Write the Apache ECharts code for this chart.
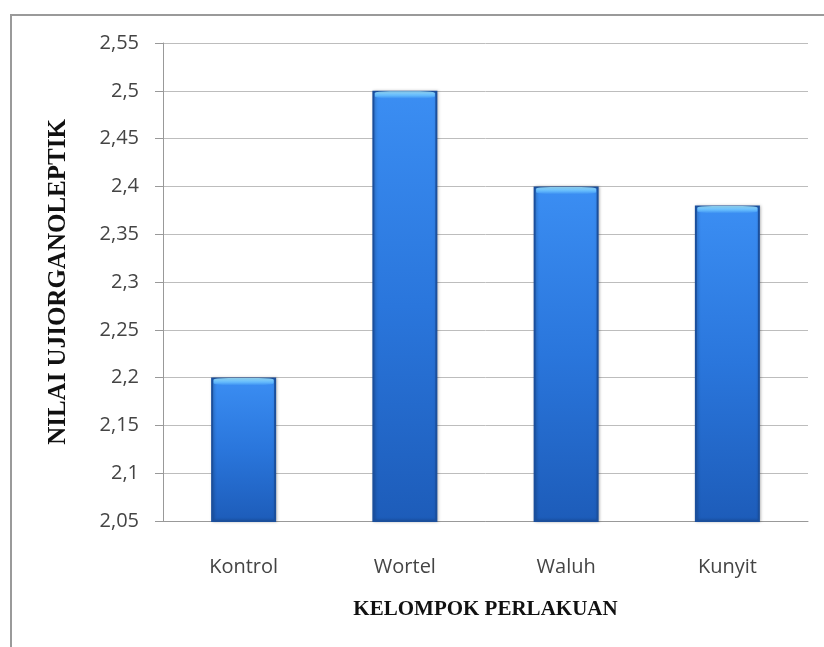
<!DOCTYPE html>
<html>
<head>
<meta charset="utf-8">
<script src="https://cdn.jsdelivr.net/npm/echarts@6/dist/echarts.min.js"></script>
<style>
  html, body { margin: 0; padding: 0; background: #fff; }
  #chart { width: 824px; height: 647px; }
</style>
</head>
<body>
<div id="chart"></div>
<script>
// data
var categories = ['Kontrol', 'Wortel', 'Waluh', 'Kunyit'];
var nilai = [2.2, 2.5, 2.4, 2.38];

var chart = echarts.init(document.getElementById('chart'));

// 2.5 -> "2,5", 2.05 -> "2,05"
function fmt(v) {
    return String(parseFloat(v.toFixed(2))).replace('.', ',');
}

var barColor = new echarts.graphic.LinearGradient(0, 0, 0, 1, [
    { offset: 0, color: '#3b8ef3' },
    { offset: 0.5, color: '#2a76dc' },
    { offset: 1, color: '#1d5cb9' }
]);
var capColor = new echarts.graphic.LinearGradient(0, 0, 0, 1, [
    { offset: 0, color: '#a8ecff' },
    { offset: 0.6, color: '#6cc4ff' },
    { offset: 1, color: '#3f93f2' }
]);

var option = {
    animation: false,
    graphic: [
        {
            type: 'rect',
            shape: { x: 11, y: 15, width: 830, height: 650 },
            style: { fill: 'none', stroke: '#9a9a9a', lineWidth: 2 },
            silent: true
        }
    ],
    grid: { left: 163, top: 43, right: 16, bottom: 126 },
    xAxis: {
        type: 'category',
        data: categories,
        name: 'KELOMPOK PERLAKUAN',
        nameLocation: 'middle',
        nameGap: 78,
        nameTextStyle: {
            fontFamily: 'Liberation Serif',
            fontWeight: 'bold',
            fontSize: 21,
            color: '#111'
        },
        axisLine: { show: true, lineStyle: { color: '#999', width: 1 } },
        axisTick: { show: false },
        axisLabel: {
            margin: 36,
            fontFamily: 'Open Sans',
            fontSize: 20,
            color: '#444'
        }
    },
    yAxis: {
        type: 'value',
        min: 2.05,
        max: 2.55,
        interval: 0.05,
        name: 'NILAI UJIORGANOLEPTIK',
        nameLocation: 'middle',
        nameGap: 92,
        nameRotate: 90,
        nameTextStyle: {
            fontFamily: 'Liberation Serif',
            fontWeight: 'bold',
            fontSize: 25,
            color: '#111'
        },
        axisLine: { show: true, lineStyle: { color: '#999', width: 1 } },
        axisTick: { show: true, length: 8, lineStyle: { color: '#999' } },
        splitLine: { show: true, lineStyle: { color: '#bdbdbd', width: 1 } },
        axisLabel: {
            margin: 24,
            fontFamily: 'Open Sans',
            fontSize: 20,
            color: '#444',
            formatter: fmt
        }
    },
    series: [
        {
            type: 'bar',
            data: nilai,
            barWidth: 65,
            itemStyle: {
                color: barColor,
                borderColor: '#1b4f9c',
                borderWidth: 2,
                shadowColor: 'rgba(0,0,0,0.25)',
                shadowBlur: 3,
                shadowOffsetX: 1
            }
        },
        {
            // light cap on top of each bar
            type: 'scatter',
            data: nilai,
            symbol: 'roundRect',
            symbolSize: [60, 7],
            symbolOffset: [0, 4],
            itemStyle: { color: capColor },
            z: 5
        }
    ]
};

chart.setOption(option);
</script>
</body>
</html>
